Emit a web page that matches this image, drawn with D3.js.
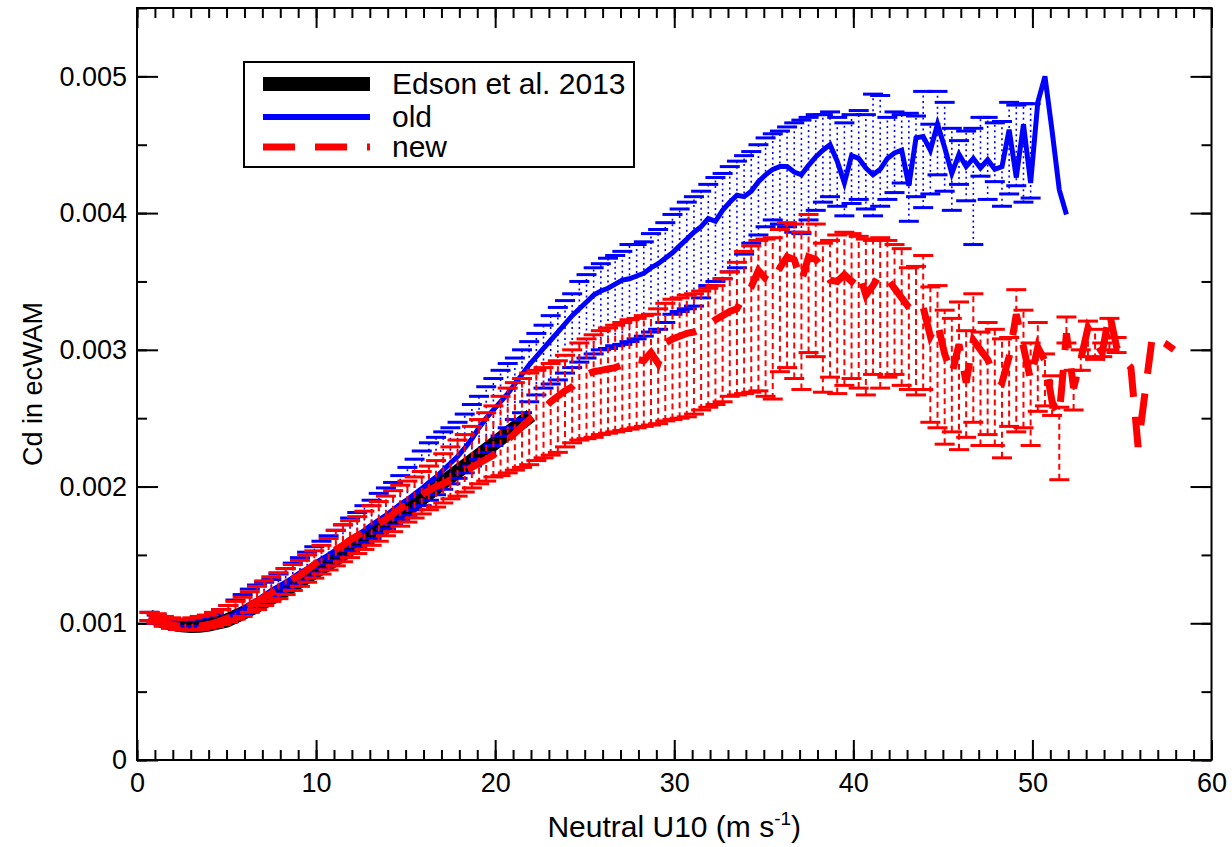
<!DOCTYPE html>
<html>
<head>
<meta charset="utf-8">
<script src="https://cdn.jsdelivr.net/npm/d3@7"></script>
<style>
  body { margin: 0; background: #fff; }
  svg { display: block; }
  text { font-family: "Liberation Sans", Arial, sans-serif; fill: #000; }
</style>
</head>
<body>
<svg id="chart" width="1232" height="847"></svg>
<script>
// wind speed bins (m/s), shared by the two ecWAM runs
const windBins = [
  0.7, 1.1, 1.5, 1.9, 2.3, 2.7, 3.1, 3.5, 3.9, 4.3,
  4.7, 5.1, 5.5, 5.9, 6.3, 6.7, 7.1, 7.5, 7.9, 8.3,
  8.7, 9.1, 9.5, 9.9, 10.3, 10.7, 11.1, 11.5, 11.9, 12.3,
  12.7, 13.1, 13.5, 13.9, 14.3, 14.7, 15.1, 15.5, 15.9, 16.3,
  16.7, 17.1, 17.5, 17.9, 18.3, 18.7, 19.1, 19.5, 19.9, 20.3,
  20.7, 21.1, 21.5, 21.9, 22.3, 22.7, 23.1, 23.5, 23.9, 24.3,
  24.7, 25.1, 25.5, 25.9, 26.3, 26.7, 27.1, 27.5, 27.9, 28.3,
  28.7, 29.1, 29.5, 29.9, 30.3, 30.7, 31.1, 31.5, 31.9, 32.3,
  32.7, 33.1, 33.5, 33.9, 34.3, 34.7, 35.1, 35.5, 35.9, 36.3,
  36.7, 37.1, 37.5, 37.9, 38.3, 38.7, 39.1, 39.5, 39.9, 40.3,
  40.7, 41.1, 41.5, 41.9, 42.3, 42.7, 43.1, 43.5, 43.9, 44.3,
  44.7, 45.1, 45.5, 45.9, 46.3, 46.7, 47.1, 47.5, 47.9, 48.3,
  48.7, 49.1, 49.5, 49.9, 50.3, 50.7, 51.1, 51.5, 51.9, 52.3,
  52.7, 53.1, 53.5, 53.9, 54.3, 54.7, 55.1, 55.5, 55.9, 56.3,
  56.7, 57.1, 57.5, 57.9
];

// all Cd values below are in units of 1e-3
const edsonU  = [0.7, 1, 1.5, 2, 2.5, 3, 3.5, 4, 5, 6, 7, 8, 9, 10, 11, 12, 13, 14, 15, 16, 17, 18, 19, 20, 21, 22];
const edsonCd = [1.05, 1.035, 1.01, 0.995, 0.985, 0.98, 0.982, 0.99, 1.02, 1.08, 1.15, 1.22, 1.30, 1.38, 1.46, 1.55,
                 1.64, 1.73, 1.82, 1.92, 2.02, 2.12, 2.22, 2.32, 2.42, 2.52];

const oldCd = [
  1.04, 1.02, 1.00, 0.985, 0.975, 0.97, 0.97, 0.975, 0.985, 1.00,
  1.02, 1.04, 1.07, 1.10, 1.14, 1.17, 1.205, 1.24, 1.27, 1.30,
  1.335, 1.37, 1.40, 1.435, 1.47, 1.50, 1.535, 1.57, 1.61, 1.645,
  1.68, 1.72, 1.755, 1.79, 1.83, 1.87, 1.905, 1.945, 1.985, 2.03,
  2.07, 2.12, 2.17, 2.22, 2.28, 2.35, 2.43, 2.50, 2.56, 2.62,
  2.68, 2.75, 2.82, 2.89, 2.95, 3.01, 3.07, 3.13, 3.19, 3.25,
  3.30, 3.35, 3.40, 3.43, 3.45, 3.48, 3.51, 3.52, 3.54, 3.56,
  3.60, 3.63, 3.67, 3.71, 3.76, 3.81, 3.86, 3.90, 3.96, 3.94,
  4.02, 4.08, 4.13, 4.12, 4.16, 4.23, 4.28, 4.32, 4.34, 4.34,
  4.30, 4.28, 4.35, 4.41, 4.46, 4.50, 4.38, 4.22, 4.42, 4.40,
  4.33, 4.28, 4.32, 4.40, 4.44, 4.46, 4.20, 4.55, 4.56, 4.46,
  4.65, 4.48, 4.29, 4.43, 4.34, 4.40, 4.33, 4.39, 4.32, 4.34,
  4.61, 4.26, 4.65, 4.22, 4.81, 5.00, 4.60, 4.17, 3.99
];
const oldHi = [
  1.08, 1.06, 1.04, 1.03, 1.02, 1.02, 1.03, 1.04, 1.05, 1.07,
  1.10, 1.13, 1.17, 1.21, 1.25, 1.28, 1.30, 1.32, 1.36, 1.40,
  1.44, 1.48, 1.52, 1.56, 1.60, 1.64, 1.68, 1.72, 1.77, 1.81,
  1.86, 1.90, 1.95, 1.99, 2.03, 2.08, 2.14, 2.20, 2.26, 2.32,
  2.36, 2.40, 2.43, 2.47, 2.53, 2.60, 2.66, 2.73, 2.79, 2.85,
  2.90, 2.94, 3.00, 3.06, 3.12, 3.18, 3.25, 3.31, 3.36, 3.41,
  3.50, 3.55, 3.60, 3.63, 3.67, 3.69, 3.72, 3.77, 3.77, 3.79,
  3.85, 3.88, 3.93, 3.99, 4.03, 4.08, 4.12, 4.16, 4.21, 4.26,
  4.29, 4.34, 4.38, 4.42, 4.45, 4.50, 4.55, 4.58, 4.60, 4.63,
  4.66, 4.68, 4.70, 4.72, 4.72, 4.74, 4.70, 4.66, 4.72, 4.75,
  4.72, 4.87, 4.86, 4.70, 4.74, 4.72, 4.73, 4.71, 4.89, 4.65,
  4.89, 4.81, 4.62, 4.53, 4.60, 4.62, 4.70, 4.70, 4.66, 4.67,
  4.81, 4.79, 4.80, 4.80, null, null, null, null, null
];
const oldLo = [
  1.02, 1.00, 0.98, 0.965, 0.955, 0.95, 0.95, 0.955, 0.965, 0.98,
  0.995, 1.01, 1.04, 1.07, 1.10, 1.13, 1.16, 1.19, 1.22, 1.25,
  1.28, 1.31, 1.34, 1.37, 1.40, 1.43, 1.46, 1.49, 1.53, 1.56,
  1.59, 1.62, 1.66, 1.69, 1.72, 1.76, 1.79, 1.83, 1.86, 1.90,
  1.94, 1.98, 2.02, 2.06, 2.10, 2.15, 2.20, 2.25, 2.30, 2.37,
  2.43, 2.49, 2.54, 2.62, 2.67, 2.72, 2.75, 2.78, 2.83, 2.87,
  2.91, 2.94, 2.97, 3.00, 3.01, 3.03, 3.04, 3.06, 3.08, 3.10,
  3.13, 3.15, 3.20, 3.26, 3.28, 3.30, 3.32, 3.38, 3.47, 3.50,
  3.52, 3.57, 3.60, 3.70, 3.78, 3.84, 3.90, 3.95, 3.92, 3.90,
  3.86, 3.85, 3.95, 4.02, 4.08, 4.12, 4.05, 3.98, 4.07, 4.10,
  4.03, 3.98, 4.05, 4.10, 4.15, 4.22, 3.94, 4.12, 4.04, 4.14,
  4.28, 4.16, 4.02, 4.21, 4.09, 3.77, 4.27, 4.10, 4.23, 4.05,
  4.14, 4.20, 4.08, 4.11, null, null, null, null, null
];

const newCd = [
  1.05, 1.03, 1.01, 0.99, 0.98, 0.975, 0.975, 0.98, 0.99, 1.00,
  1.02, 1.04, 1.07, 1.10, 1.13, 1.16, 1.19, 1.22, 1.25, 1.28,
  1.32, 1.35, 1.39, 1.43, 1.47, 1.51, 1.54, 1.57, 1.61, 1.64,
  1.67, 1.70, 1.73, 1.76, 1.80, 1.84, 1.87, 1.91, 1.94, 1.97,
  2.00, 2.02, 2.05, 2.08, 2.11, 2.14, 2.17, 2.20, 2.23, 2.28,
  2.34, 2.39, 2.44, 2.49, 2.53, 2.57, 2.62, 2.66, 2.70, 2.73,
  2.78, 2.82, 2.84, 2.85, 2.86, 2.87, 2.89, 2.92, 2.93, 2.92,
  2.98, 2.90, 3.05, 3.08, 3.10, 3.12, 3.13, 3.15, 3.18, 3.22,
  3.25, 3.28, 3.30, 3.40, 3.46, 3.58, 3.52, 3.49, 3.60, 3.68,
  3.66, 3.50, 3.68, 3.66, 3.60, 3.51, 3.50, 3.55, 3.50, 3.57,
  3.40, 3.47, 3.56, 3.52, 3.45, 3.38, 3.31, 3.26, 3.31, 3.10,
  3.20, 2.97, 2.82, 3.04, 2.76, 3.07, 3.00, 2.93, 2.80, 2.76,
  2.95, 3.26, 3.02, 2.78, 3.02, 2.92, 2.62, 2.52, 3.12, 2.72,
  2.93, 3.16, 3.06, 2.98, 3.27, 3.02, 2.93, 2.87, 2.29, 2.70,
  3.10, 3.07, 3.04, 3.00
];
const newHi = [
  1.08, 1.07, 1.05, 1.04, 1.03, 1.03, 1.04, 1.05, 1.06, 1.08,
  1.10, 1.13, 1.16, 1.19, 1.23, 1.27, 1.31, 1.34, 1.37, 1.40,
  1.43, 1.46, 1.50, 1.53, 1.57, 1.62, 1.68, 1.72, 1.75, 1.78,
  1.82, 1.86, 1.89, 1.93, 1.97, 2.01, 2.04, 2.07, 2.11, 2.15,
  2.19, 2.24, 2.29, 2.34, 2.38, 2.44, 2.49, 2.54, 2.59, 2.66,
  2.72, 2.76, 2.79, 2.83, 2.85, 2.87, 2.90, 2.92, 2.96, 3.00,
  3.05, 3.08, 3.11, 3.14, 3.16, 3.18, 3.20, 3.22, 3.23, 3.25,
  3.26, 3.30, 3.34, 3.37, 3.38, 3.40, 3.41, 3.43, 3.45, 3.47,
  3.52, 3.57, 3.64, 3.72, 3.76, 3.80, 3.81, 3.82, 3.88, 3.93,
  3.92, 3.86, 3.99, 3.92, 3.78, 3.80, 3.84, 3.86, 3.85, 3.83,
  3.81, 3.80, 3.82, 3.80, 3.77, 3.74, 3.60, 3.61, 3.69, 3.46,
  3.47, 3.29, 3.23, 3.35, 3.14, 3.41, 3.13, 3.20, 3.15, 3.08,
  3.09, 3.44, 3.29, 3.05, 3.20, 2.97, 2.81, 2.58, 3.24, 2.85,
  3.00, 3.21, 3.15, 3.05, 3.23, 3.09, null, null, null, null,
  null, null, null, null
];
const newLo = [
  1.02, 1.00, 0.98, 0.965, 0.955, 0.95, 0.95, 0.955, 0.965, 0.975,
  0.99, 1.01, 1.03, 1.05, 1.08, 1.10, 1.13, 1.16, 1.18, 1.21,
  1.24, 1.27, 1.30, 1.33, 1.36, 1.39, 1.42, 1.45, 1.48, 1.51,
  1.54, 1.57, 1.60, 1.64, 1.67, 1.71, 1.74, 1.77, 1.80, 1.83,
  1.85, 1.88, 1.91, 1.93, 1.96, 1.99, 2.02, 2.04, 2.07, 2.08,
  2.10, 2.12, 2.14, 2.16, 2.19, 2.21, 2.23, 2.25, 2.29, 2.32,
  2.34, 2.35, 2.36, 2.38, 2.39, 2.40, 2.41, 2.42, 2.43, 2.44,
  2.45, 2.46, 2.48, 2.49, 2.50, 2.51, 2.53, 2.56, 2.58, 2.60,
  2.62, 2.66, 2.67, 2.68, 2.69, 2.70, 2.66, 2.64, 2.84, 2.87,
  2.79, 2.71, 2.98, 2.95, 2.69, 2.80, 2.68, 2.74, 2.79, 2.72,
  2.67, 2.82, 2.72, 2.80, 2.82, 2.74, 2.71, 2.67, 2.71, 2.47,
  2.43, 2.31, 2.40, 2.27, 2.36, 2.47, 2.30, 2.38, 2.30, 2.21,
  2.44, 2.40, 2.43, 2.30, 2.55, 2.59, 2.52, 2.05, 3.05, 2.56,
  2.85, 2.95, 2.93, 2.95, 3.00, 2.98, null, null, null, null,
  null, null, null, null
];

const xTicks = [0, 10, 20, 30, 40, 50, 60];
const xTickLabels = ["0", "10", "20", "30", "40", "50", "60"];
const yTicks = [0, 0.001, 0.002, 0.003, 0.004, 0.005];
const yTickLabels = ["0", "0.001", "0.002", "0.003", "0.004", "0.005"];
const legendLabels = ["Edson et al. 2013", "old", "new"];

const svg = d3.select('#chart');
const plotLeft = 137, plotRight = 1211.5, plotTop = 8, plotBottom = 760;

const x = d3.scaleLinear().domain([0, 60]).range([plotLeft, plotRight]);
const y = d3.scaleLinear().domain([0, 0.0055]).range([plotBottom, plotTop]);
const cd = v => v == null ? null : v * 1e-3;

const xMinor = d3.range(0, 61);
const yMinor = d3.range(0, 12).map(i => i * 0.0005);

function styleAxis(g) {
  g.select('.domain').remove();
  g.selectAll('.tick line').attr('stroke', '#000').attr('stroke-width', 2);
  g.selectAll('.tick text').style('font-size', '27px').style('font-family', '"Liberation Sans", Arial, sans-serif');
}

// ticks point inward on all four sides
svg.append('g').attr('transform', `translate(0,${plotBottom})`)
  .call(d3.axisBottom(x).tickValues(xMinor).tickSize(-10).tickFormat('')).call(styleAxis);
svg.append('g').attr('transform', `translate(0,${plotBottom})`)
  .call(d3.axisBottom(x).tickValues(xTicks).tickSize(-20).tickPadding(13)
    .tickFormat((d, i) => xTickLabels[i])).call(styleAxis);
svg.append('g').attr('transform', `translate(0,${plotTop})`)
  .call(d3.axisTop(x).tickValues(xMinor).tickSize(-10).tickFormat('')).call(styleAxis);
svg.append('g').attr('transform', `translate(0,${plotTop})`)
  .call(d3.axisTop(x).tickValues(xTicks).tickSize(-20).tickFormat('')).call(styleAxis);

svg.append('g').attr('transform', `translate(${plotLeft},0)`)
  .call(d3.axisLeft(y).tickValues(yMinor).tickSize(-10).tickFormat('')).call(styleAxis);
svg.append('g').attr('transform', `translate(${plotLeft},0)`)
  .call(d3.axisLeft(y).tickValues(yTicks).tickSize(-21).tickPadding(10)
    .tickFormat((d, i) => yTickLabels[i])).call(styleAxis);
svg.append('g').attr('transform', `translate(${plotRight},0)`)
  .call(d3.axisRight(y).tickValues(yMinor).tickSize(-10).tickFormat('')).call(styleAxis);
svg.append('g').attr('transform', `translate(${plotRight},0)`)
  .call(d3.axisRight(y).tickValues(yTicks).tickSize(-21).tickFormat('')).call(styleAxis);

const plot = svg.append('g');

// Edson et al. 2013 reference curve
const edson = edsonU.map((u, i) => [u, cd(edsonCd[i])]);
const line = d3.line().x(d => x(d[0])).y(d => y(d[1]));
plot.append('path').datum(edson).attr('d', line)
  .attr('fill', 'none').attr('stroke', '#000').attr('stroke-width', 14);

function errorBars(values, lo, hi, color, dash, width) {
  const data = values.map((v, i) => ({u: windBins[i], lo: cd(lo[i]), hi: cd(hi[i])}))
    .filter(d => d.lo != null && d.hi != null);
  const g = plot.append('g');
  g.selectAll('line.bar').data(data).join('line').attr('class', 'bar')
    .attr('x1', d => x(d.u)).attr('x2', d => x(d.u))
    .attr('y1', d => y(d.lo)).attr('y2', d => y(d.hi))
    .attr('stroke', color).attr('stroke-width', width).attr('stroke-dasharray', dash);
  const caps = data.flatMap(d => [[d.u, d.lo], [d.u, d.hi]]);
  g.selectAll('line.cap').data(caps).join('line').attr('class', 'cap')
    .attr('x1', d => x(d[0]) - 10).attr('x2', d => x(d[0]) + 10)
    .attr('y1', d => y(d[1])).attr('y2', d => y(d[1]))
    .attr('stroke', color).attr('stroke-width', 3);
}

errorBars(oldCd, oldLo, oldHi, '#0000ff', '2,3.5', 1.6);
plot.append('path').datum(oldCd.map((v, i) => [windBins[i], cd(v)])).attr('d', line)
  .attr('fill', 'none').attr('stroke', '#0000ff').attr('stroke-width', 5);

errorBars(newCd, newLo, newHi, '#ff0000', '6,4', 2);
plot.append('path').datum(newCd.map((v, i) => [windBins[i], cd(v)])).attr('d', line)
  .attr('fill', 'none').attr('stroke', '#ff0000').attr('stroke-width', 7)
  .attr('stroke-dasharray', '32,20');

// frame
svg.append('rect').attr('x', plotLeft).attr('y', plotTop)
  .attr('width', plotRight - plotLeft).attr('height', plotBottom - plotTop)
  .attr('fill', 'none').attr('stroke', '#000').attr('stroke-width', 2);

// legend
const legend = svg.append('g');
legend.append('rect').attr('x', 244).attr('y', 62).attr('width', 390).attr('height', 105)
  .attr('fill', '#fff').attr('stroke', '#000').attr('stroke-width', 2);
const legendStyles = [
  {color: '#000', width: 14, dash: null, y: 84},
  {color: '#0000ff', width: 6, dash: null, y: 117},
  {color: '#ff0000', width: 7, dash: '32,20', y: 147}
];
legendStyles.forEach((s, i) => {
  legend.append('line').attr('x1', 263).attr('x2', 370).attr('y1', s.y).attr('y2', s.y)
    .attr('stroke', s.color).attr('stroke-width', s.width).attr('stroke-dasharray', s.dash);
  legend.append('text').attr('x', 392).attr('y', s.y + 10)
    .style('font-size', '30px').text(legendLabels[i]);
});

// axis titles
const xTitle = svg.append('text').attr('x', (plotLeft + plotRight) / 2).attr('y', 837)
  .attr('text-anchor', 'middle').style('font-size', '30px');
xTitle.append('tspan').text('Neutral U10 (m s');
xTitle.append('tspan').attr('dy', -12).style('font-size', '19px').text('-1');
xTitle.append('tspan').attr('dy', 12).text(')');

svg.append('text').attr('transform', `translate(42,${(plotTop + plotBottom) / 2}) rotate(-90)`)
  .attr('text-anchor', 'middle').style('font-size', '27px').text('Cd in ecWAM');
</script>
</body>
</html>
